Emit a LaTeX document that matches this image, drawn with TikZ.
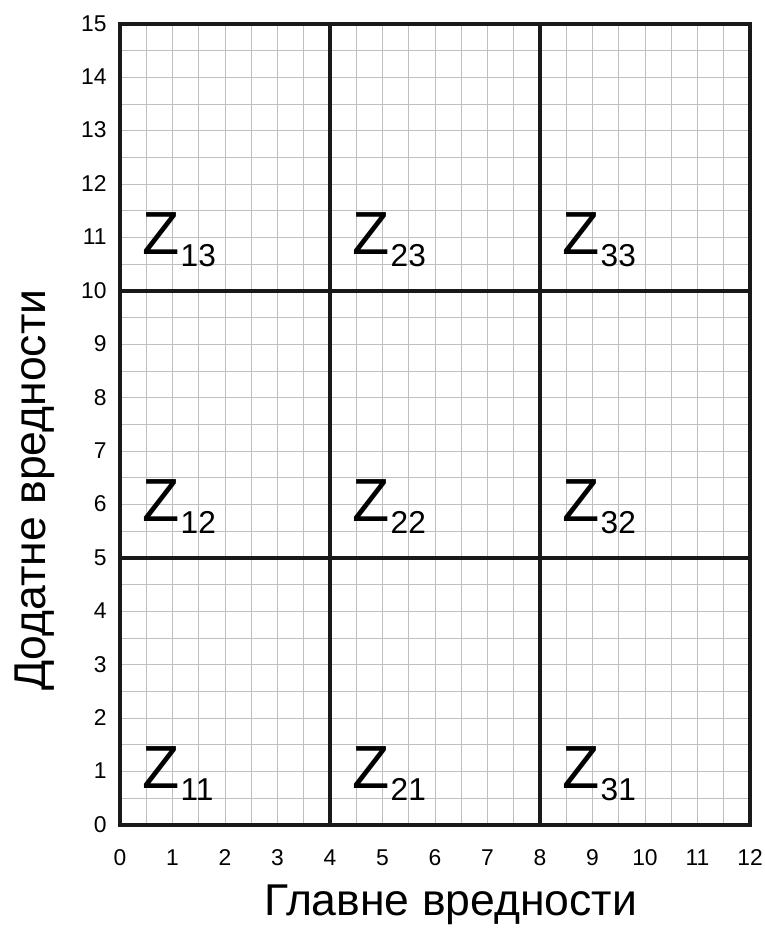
\documentclass[tikz,border=0pt]{standalone}
\usepackage{fontspec}
\setmainfont{Liberation Sans}
\usepackage{tikz}
\usetikzlibrary{positioning}

\begin{document}
\begin{tikzpicture}[
    x=1.575cm, y=1.602cm,
    minor/.style={draw=gray!50, line width=0.8pt},
    major/.style={draw=black!90, line width=3pt},
    tick/.style={font=\fontsize{19.5}{19.5}\selectfont, inner sep=0pt},
    zlbl/.style={anchor=base west, inner sep=0pt, font=\fontsize{52}{52}\selectfont},
    title/.style={font=\fontsize{38}{38}\selectfont, inner sep=0pt},
  ]
    \useasboundingbox (-2.2857,-2.0225) rectangle (12.2857,15.4494);

    % fine grid
    \draw[minor] (0,0) grid[xstep=0.5, ystep=0.5] (12,15);
    % zone borders
    \draw[major] (4,0) -- (4,15);
    \draw[major] (8,0) -- (8,15);
    \draw[major] (0,5) -- (12,5);
    \draw[major] (0,10) -- (12,10);
    \draw[major] (0,0) rectangle (12,15);

    % ticks
    \foreach \y in {0,...,15}
      \node[tick, anchor=base east] (ly\y) at (-0.25,\y-0.135) {\y};
    \foreach \x in {0,...,12}
      \node[tick, anchor=base] (lx\x) at (\x,-0.75) {\x};

    % zones
    \foreach \i in {1,2,3}
      \foreach \j in {1,2,3}
        \node[zlbl] (z\i\j) at ({0.42+4*(\i-1)},{0.68+5*(\j-1)})
          {Z\kern1pt{\fontsize{27}{27}\selectfont\raisebox{-0.34cm}{\i\j}}};

    \node[title] (xtitle) at (6.3,-1.5) {Главне вредности};
    \node[title, rotate=90] (ytitle) at (-1.62,6.27) {Додатне вредности};
  \end{tikzpicture}
\end{document}
